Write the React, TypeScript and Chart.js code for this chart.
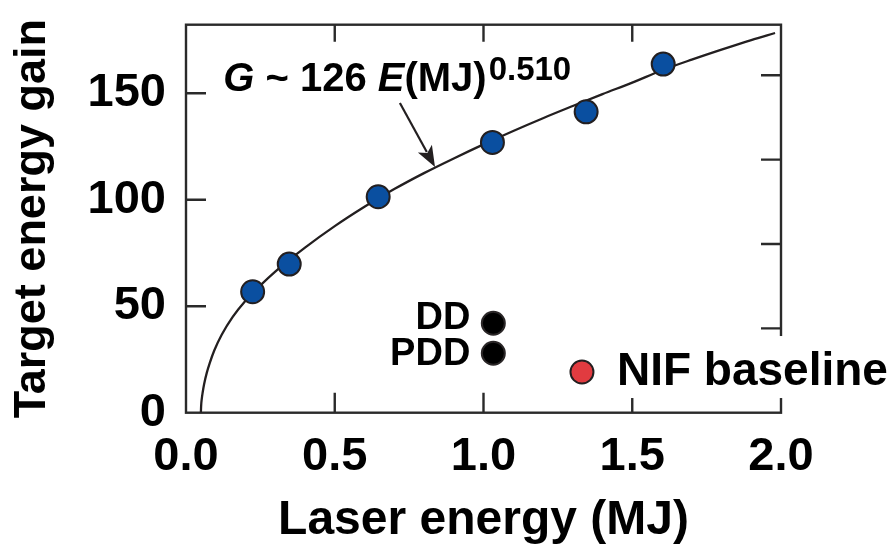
import React, { useEffect, useRef } from 'react';
import { Chart, registerables } from 'chart.js';

Chart.register(...registerables);

// Fit curve G ~ 126 E(MJ)^0.510
const fitEnergy = [0.05, 0.051, 0.053, 0.056, 0.061, 0.07, 0.08, 0.095, 0.12, 0.157, 0.2, 0.25, 0.3, 0.4, 0.5, 0.6, 0.7, 0.8, 0.9, 1.0, 1.1, 1.2, 1.3, 1.4, 1.5, 1.6, 1.7, 1.8, 1.9, 1.98];
const fitGain = [0, 3.5, 6.5, 9.5, 13.5, 18.8, 23.4, 29.2, 36.6, 45, 52.6, 59.8, 66.3, 77.5, 87.6, 96.7, 105, 112.5, 119.4, 126, 132.3, 138.3, 144, 149.6, 155, 160.8, 165.8, 170.5, 175, 178.3];

// Blue design points
const designEnergy = [0.224, 0.347, 0.646, 1.03, 1.345, 1.604];
const designGain = [56.8, 69.8, 101.4, 126.9, 141.3, 163.7];

// Black points
const ddEnergy = [1.033];
const ddGain = [42.0];
const pddEnergy = [1.033];
const pddGain = [27.9];

// Red point
const nifEnergy = [1.331];
const nifGain = [19.1];

const xTicks = ['0.0', '0.5', '1.0', '1.5', '2.0'];
const yTicks = [0, 50, 100, 150];

const FONT = "'Liberation Sans', Arial, Helvetica, sans-serif";
const FRAME = '#2a2a2a';
const INK = '#000000';

const zip = (xs: number[], ys: number[]) => xs.map((x, i) => ({ x, y: ys[i] }));

const decor = {
  id: 'decor',
  beforeDatasetsDraw(chart: any) {
    const { ctx, chartArea: a, scales } = chart;
    const x = scales.x, y = scales.y, y2 = scales.y2;
    ctx.save();
    ctx.strokeStyle = FRAME;
    ctx.lineWidth = 2.4;
    ctx.beginPath();
    x.ticks.forEach((t: any) => {
      if (t.value <= x.min + 1e-9 || t.value >= x.max - 1e-9) return;
      const px = x.getPixelForValue(t.value);
      ctx.moveTo(px, a.bottom);
      ctx.lineTo(px, a.bottom - 20);
      ctx.moveTo(px, a.top);
      ctx.lineTo(px, a.top + 17);
    });
    y.ticks.forEach((t: any) => {
      if (t.value <= y.min + 1e-9 || t.value >= y.max - 1e-9) return;
      const py = y.getPixelForValue(t.value);
      ctx.moveTo(a.left, py);
      ctx.lineTo(a.left + 20, py);
    });
    y2.ticks.forEach((t: any) => {
      if (t.value <= y2.min + 1e-9 || t.value >= y2.max - 1e-9) return;
      const py = y2.getPixelForValue(t.value);
      ctx.moveTo(a.right, py);
      ctx.lineTo(a.right - 20, py);
    });
    ctx.stroke();
    ctx.lineWidth = 2.4;
    ctx.strokeRect(a.left, a.top, a.right - a.left, a.bottom - a.top);
    ctx.restore();
  },
  afterDraw(chart: any) {
    const { ctx, scales } = chart;
    const x = scales.x, y = scales.y;
    ctx.save();
    ctx.fillStyle = INK;
    ctx.textBaseline = 'alphabetic';

    // Formula
    let cx = x.getPixelForValue(0.125);
    const base = y.getPixelForValue(151);
    const parts: [string, string][] = [
      ['G', 'italic bold 40px ' + FONT],
      [' ~ 126 ', 'bold 40px ' + FONT],
      ['E', 'italic bold 40px ' + FONT],
      ['(MJ)', 'bold 40px ' + FONT],
    ];
    ctx.textAlign = 'left';
    parts.forEach(([s, f]) => {
      ctx.font = f;
      ctx.fillText(s, cx, base);
      cx += ctx.measureText(s).width;
    });
    ctx.font = 'bold 33px ' + FONT;
    ctx.fillText('0.510', cx + 2, base - 11);

    // Arrow
    const x0 = x.getPixelForValue(0.719), y0 = y.getPixelForValue(145.4);
    const x1 = x.getPixelForValue(0.837), y1 = y.getPixelForValue(115.4);
    const ang = Math.atan2(y1 - y0, x1 - x0);
    const hl = 21, hw = 8;
    const bx = x1 - hl * Math.cos(ang), by = y1 - hl * Math.sin(ang);
    ctx.strokeStyle = '#231f20';
    ctx.lineWidth = 2.2;
    ctx.beginPath();
    ctx.moveTo(x0, y0);
    ctx.lineTo(bx + 4 * Math.cos(ang), by + 4 * Math.sin(ang));
    ctx.stroke();
    ctx.fillStyle = '#231f20';
    ctx.beginPath();
    ctx.moveTo(x1, y1);
    ctx.lineTo(bx - hw * Math.sin(ang), by + hw * Math.cos(ang));
    ctx.lineTo(bx + 5 * Math.cos(ang), by + 5 * Math.sin(ang));
    ctx.lineTo(bx + hw * Math.sin(ang), by - hw * Math.cos(ang));
    ctx.closePath();
    ctx.fill();

    // DD / PDD labels
    ctx.fillStyle = INK;
    ctx.font = 'bold 38px ' + FONT;
    ctx.textAlign = 'right';
    const lx = x.getPixelForValue(ddEnergy[0]) - 23;
    ctx.fillText('DD', lx, y.getPixelForValue(ddGain[0]) + 6);
    ctx.fillText('PDD', lx, y.getPixelForValue(pddGain[0]) + 12);

    // NIF baseline label with white backing
    const nx = x.getPixelForValue(nifEnergy[0]);
    const ny = y.getPixelForValue(nifGain[0]);
    ctx.fillStyle = '#ffffff';
    ctx.fillRect(nx + 18, ny - 36, chart.width - nx, 62);
    ctx.fillStyle = INK;
    ctx.font = 'bold 46px ' + FONT;
    ctx.textAlign = 'left';
    ctx.fillText('NIF baseline', nx + 35, ny + 13);
    ctx.restore();
  },
};

export default function App() {
  const ref = useRef<HTMLCanvasElement | null>(null);
  useEffect(() => {
    document.body.style.margin = '0';
    if (!ref.current) return;
    const chart = new Chart(ref.current, {
      type: 'scatter',
      data: {
        datasets: [
          {
            label: 'Design points',
            data: zip(designEnergy, designGain),
            backgroundColor: '#0a4fa0',
            borderColor: '#231f20',
            borderWidth: 2,
            pointRadius: 11.5,
            order: 0,
          },
          {
            label: 'DD',
            data: zip(ddEnergy, ddGain),
            backgroundColor: '#000000',
            borderColor: '#2a2627',
            borderWidth: 2,
            pointRadius: 11.5,
            order: 0,
          },
          {
            label: 'PDD',
            data: zip(pddEnergy, pddGain),
            backgroundColor: '#000000',
            borderColor: '#2a2627',
            borderWidth: 2,
            pointRadius: 11.5,
            order: 0,
          },
          {
            label: 'NIF baseline',
            data: zip(nifEnergy, nifGain),
            backgroundColor: '#e13b40',
            borderColor: '#231f20',
            borderWidth: 2,
            pointRadius: 11.5,
            order: 0,
          },
          {
            label: 'Fit',
            data: zip(fitEnergy, fitGain),
            showLine: true,
            borderColor: '#231f20',
            borderWidth: 2.3,
            pointRadius: 0,
            fill: false,
            cubicInterpolationMode: 'monotone',
            order: 1,
          } as any,
        ],
      },
      options: {
        animation: false,
        responsive: false,
        events: [],
        layout: { padding: { top: 24.7, right: 111, left: 0, bottom: 0 } },
        plugins: { legend: { display: false }, tooltip: { enabled: false } },
        scales: {
          x: {
            type: 'linear',
            min: 0,
            max: 2,
            afterFit: (s: any) => { s.height = 135.3; s.paddingLeft = 0; s.paddingRight = 0; },
            ticks: {
              stepSize: 0.5,
              padding: 21,
              color: INK,
              font: { family: FONT, size: 47, weight: 'bold', lineHeight: 1 },
              callback: (v: any) => xTicks[Math.round(Number(v) / 0.5)] ?? '',
            },
            grid: { display: false, drawTicks: false },
            border: { display: false },
            title: {
              display: true,
              text: 'Laser energy (MJ)',
              color: INK,
              font: { family: FONT, size: 48, weight: 'bold', lineHeight: 1 },
              padding: { top: 0, bottom: 3.5 },
            },
          },
          y: {
            type: 'linear',
            min: 0,
            max: 182.2,
            afterFit: (s: any) => { s.width = 186; s.paddingTop = 0; s.paddingBottom = 0; },
            afterBuildTicks: (s: any) => { s.ticks = yTicks.map((v) => ({ value: v })); },
            ticks: {
              padding: 20,
              color: INK,
              font: { family: FONT, size: 47, weight: 'bold', lineHeight: 1 },
            },
            grid: { display: false, drawTicks: false },
            border: { display: false },
            title: {
              display: true,
              text: 'Target energy gain',
              color: INK,
              font: { family: FONT, size: 45, weight: 'bold', lineHeight: 1 },
              padding: { top: 10, bottom: 0 },
            },
          },
          y2: {
            type: 'linear',
            position: 'right',
            min: 0,
            max: 4.6,
            afterFit: (s: any) => { s.width = 0; s.paddingTop = 0; s.paddingBottom = 0; },
            ticks: { stepSize: 1, display: false },
            grid: { display: false, drawTicks: false },
            border: { display: false },
          },
        },
      },
      plugins: [decor],
    } as any);
    return () => chart.destroy();
  }, []);
  return (
    <div style={{ width: 892, height: 548 }}>
      <canvas ref={ref} width={892} height={548} />
    </div>
  );
}
